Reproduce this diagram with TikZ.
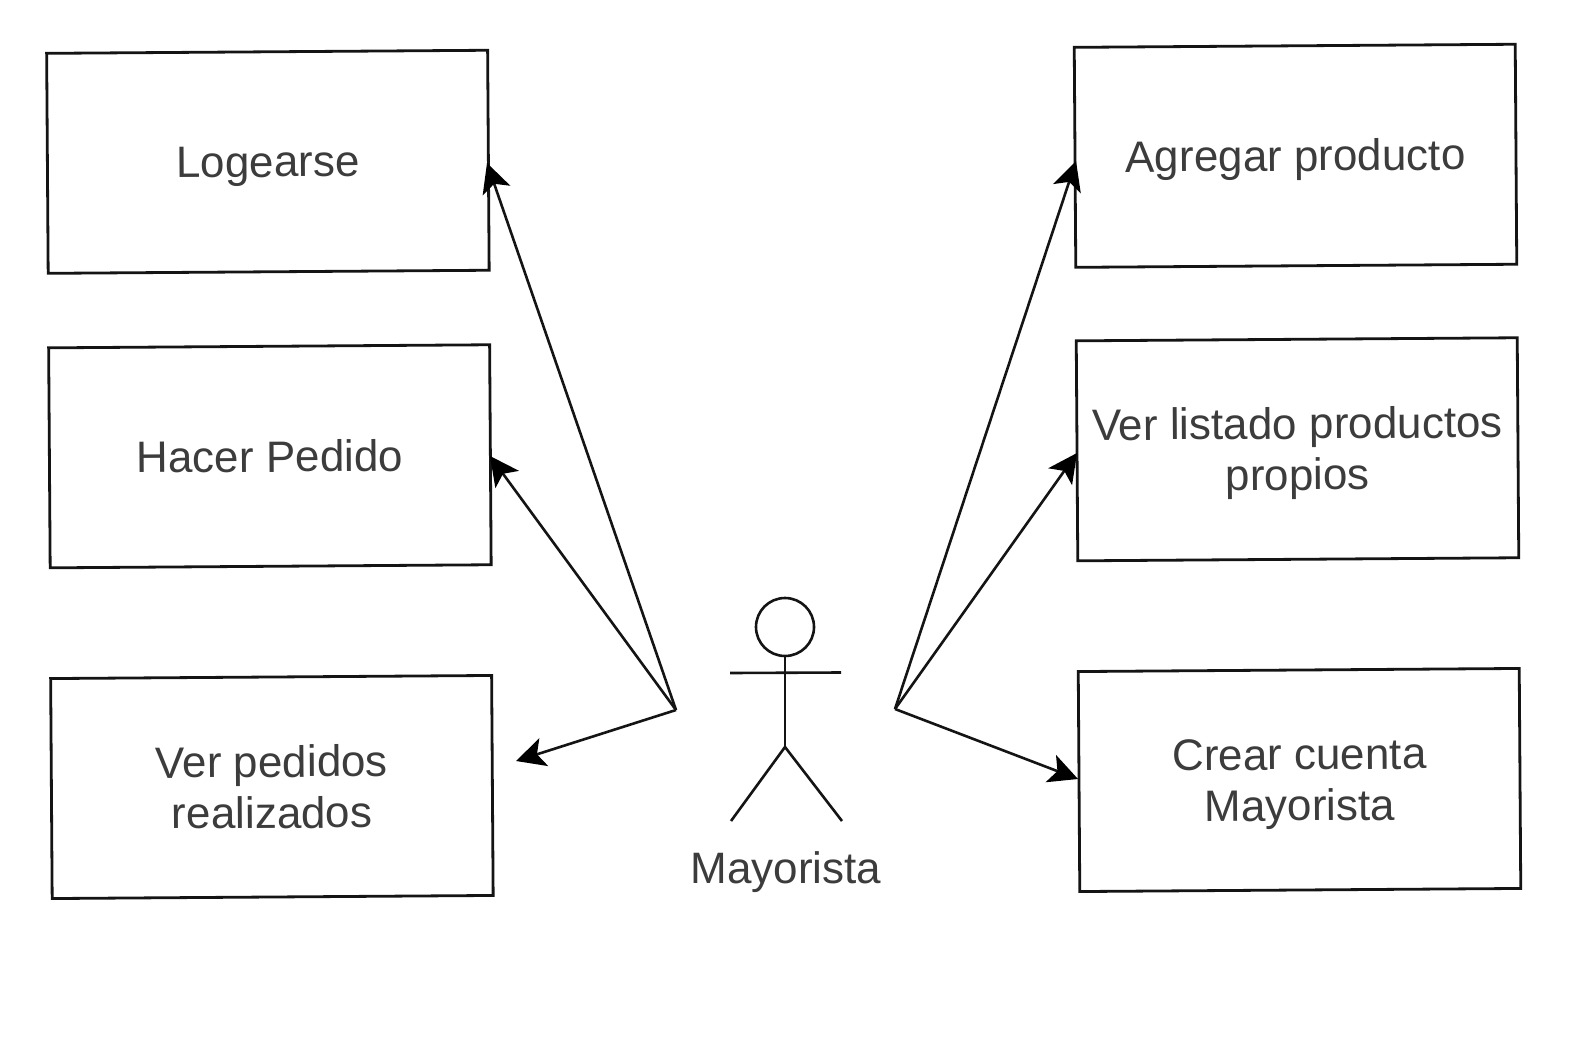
\documentclass[tikz,border=0pt]{standalone}
\usepackage{fontspec}
\setmainfont{Liberation Sans}
\usetikzlibrary{arrows.meta}
\definecolor{inkc}{HTML}{141414}
\definecolor{txtc}{HTML}{3C3C3C}
\newcommand{\dnbox}[1]{\vbox{\kern10pt\hbox{\begin{tabular}{@{}c@{}}#1\end{tabular}}}}
\tikzset{
  usebox/.style={draw=inkc,line width=2.8pt,rotate=0.4,minimum width=441pt,minimum height=220pt,inner sep=0pt,align=center,text=txtc,font=\fontsize{44}{51}\selectfont},
  flow/.style={draw=inkc,line width=2.6pt,-{Stealth[length=29pt,width=29pt,inset=7pt,color=black]}},
  stick/.style={draw=inkc,line width=2.6pt},
  lab/.style={text=txtc,inner sep=0pt,font=\fontsize{44}{51}\selectfont}
}
\begin{document}
\begin{tikzpicture}[x=1pt,y=-1pt]
\useasboundingbox (0,0) rectangle (1576,1051);
\fill[white] (0,0) rectangle (1576,1051);
\node[usebox] (log) at (267.9,161.8) {\dnbox{Logearse}};
\node[usebox] (hac) at (269.9,456.3) {Hacer Pedido};
\node[usebox] (ped) at (271.9,787) {Ver pedidos\\realizados};
\node[usebox] (agr) at (1295.5,155.8) {\dnbox{Agregar producto}};
\node[usebox] (lis) at (1297.5,449.3) {\dnbox{Ver listado productos\\propios}};
\node[usebox] (cre) at (1299.5,780) {\dnbox{Crear cuenta\\Mayorista}};
% actor
\node[stick,circle,draw,minimum size=58pt,inner sep=0pt] (head) at (785,627) {};
\coordinate (hip) at (785,747);
\coordinate (armL) at (730,673);
\coordinate (armR) at (841,672.5);
\coordinate (legL) at (731,821);
\coordinate (legR) at (842,821);
\draw[stick] (head.south) -- (hip);
\draw[stick] (armL) -- (armR);
\draw[stick] (legL) -- (hip) -- (legR);
\node[lab] (may) at (786,872) {Mayorista};
% connectors
\coordinate (hubL) at (676,710);
\coordinate (hubR) at (895,709);
\coordinate (tLog) at (487,163);
\coordinate (tHac) at (490,456);
\coordinate (tPed) at (516,761);
\coordinate (tAgr) at (1076,161);
\coordinate (tLis) at (1077,453);
\coordinate (tCre) at (1078,779);
\draw[flow] (hubL) -- (tLog);
\draw[flow] (hubL) -- (tHac);
\draw[flow] (hubL) -- (tPed);
\draw[flow] (hubR) -- (tAgr);
\draw[flow] (hubR) -- (tLis);
\draw[flow] (hubR) -- (tCre);
\end{tikzpicture}
\end{document}
